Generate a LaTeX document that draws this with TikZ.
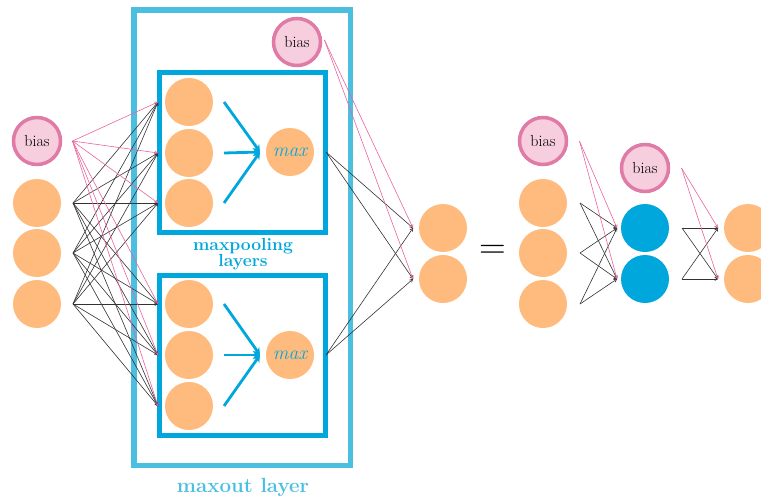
\documentclass[tikz,border=0pt]{standalone}
\usepackage{fontspec}
\usetikzlibrary{arrows.meta}
\definecolor{neuronc}{HTML}{FFBB7D}
\definecolor{biasfill}{HTML}{F6CEDD}
\definecolor{biasline}{HTML}{E07AA6}
\definecolor{poolblue}{HTML}{00A7DC}
\definecolor{outerblue}{HTML}{4BBFE0}
\definecolor{pinkline}{HTML}{E8649F}
\definecolor{wirec}{HTML}{333333}
\begin{document}
\begin{tikzpicture}[x=1pt,y=-1pt,
  neuron/.style={circle,fill=neuronc,minimum size=48pt,inner sep=0pt,outer sep=0pt},
  hiddenunit/.style={neuron,fill=poolblue},
  biasnode/.style={circle,fill=biasfill,draw=biasline,line width=3.5pt,minimum size=47pt,
    inner sep=0pt,outer sep=0pt,font=\fontsize{16}{18}\selectfont},
  wire/.style={draw=wirec,line width=0.6pt,-{To[length=3.5pt,width=3.5pt]}},
  biaswire/.style={wire,draw=pinkline},
  poolbox/.style={draw=poolblue,line width=5pt},
  outerbox/.style={draw=outerblue,line width=5.5pt},
  poolarrow/.style={draw=poolblue,line width=2.8pt,-{Stealth[length=7pt,width=8pt]}},
  maxlabel/.style={font=\fontsize{19.5}{20}\selectfont\itshape,text=poolblue},
]
\useasboundingbox (0,0) rectangle (761,501);

% maxout layer frame and its two maxpooling boxes
\draw[outerbox] (134,10) rectangle (350.5,465.5);
\draw[poolbox] (159.5,72.5) rectangle (325.5,232.5);
\draw[poolbox] (159.5,275.5) rectangle (325.5,435.5);

% input layer
\node[biasnode] (b1) at (37,141) {bias};
\node[neuron] (i1) at (37,203) {};
\node[neuron] (i2) at (37,253) {};
\node[neuron] (i3) at (37,304) {};

% upper maxpooling unit
\node[neuron] (u1) at (189,102) {};
\node[neuron] (u2) at (189,153) {};
\node[neuron] (u3) at (189,203) {};
\node[neuron,maxlabel] (um) at (290,152) {max};

% lower maxpooling unit
\node[neuron] (l1) at (189,304) {};
\node[neuron] (l2) at (189,355) {};
\node[neuron] (l3) at (189,406) {};
\node[neuron,maxlabel] (lm) at (290,355) {max};

\node[biasnode] (b2) at (297,42) {bias};

% outputs
\node[neuron] (o1) at (443,228) {};
\node[neuron] (o2) at (443,279) {};

\node[font=\fontsize{37}{40}\selectfont] (eq) at (493,252) {=};

% equivalent network
\node[biasnode] (b3) at (543,141) {bias};
\node[neuron] (r1) at (543,203) {};
\node[neuron] (r2) at (543,253) {};
\node[neuron] (r3) at (543,304) {};
\node[biasnode] (b4) at (645,168) {bias};
\node[hiddenunit] (h1) at (645,228) {};
\node[hiddenunit] (h2) at (645,279) {};
\node[neuron] (f1) at (748,228) {};
\node[neuron] (f2) at (748,279) {};

% labels
\node[font=\fontsize{17.5}{16}\selectfont\bfseries,text=poolblue,align=center] (plabel) at (243,254)
  {maxpooling\\layers};
\node[font=\fontsize{20.5}{21}\selectfont\bfseries,text=outerblue] (olabel) at (243,487) {maxout layer};

% inputs to the pooling units
\foreach \s in {i1,i2,i3}
  \foreach \t in {u1,u2,u3,l1,l2,l3}
    \draw[wire] ([xshift=12pt]\s.east) -- ([xshift=-7pt]\t.west);
\foreach \t in {u1,u2,u3,l1,l2,l3}
  \draw[biaswire] ([xshift=12pt]b1.east) -- ([xshift=-7pt]\t.west);

% pooling arrows
\foreach \p/\m in {u/um,l/lm}
  \foreach \k in {1,2,3}
    \draw[poolarrow] ([xshift=11pt]\p\k.east) -- ([xshift=-6pt]\m.west);

% maxout outputs
\foreach \s in {um,lm}
  \foreach \t in {o1,o2}
    \draw[wire] ([xshift=12pt]\s.east) -- ([xshift=-6pt]\t.west);
\foreach \t in {o1,o2}
  \draw[biaswire] ([xshift=4pt,yshift=2pt]b2.east) -- ([xshift=-6pt]\t.west);

% equivalent network connections
\foreach \s in {r1,r2,r3}
  \foreach \t in {h1,h2}
    \draw[wire] ([xshift=13pt]\s.east) -- ([xshift=-4pt]\t.west);
\foreach \t in {h1,h2}
  \draw[biaswire] ([xshift=13pt]b3.east) -- ([xshift=-4pt]\t.west);
\foreach \s in {h1,h2}
  \foreach \t in {f1,f2}
    \draw[wire] ([xshift=13pt]\s.east) -- ([xshift=-6pt]\t.west);
\foreach \t in {f1,f2}
  \draw[biaswire] ([xshift=13pt]b4.east) -- ([xshift=-6pt]\t.west);
\end{tikzpicture}
\end{document}
